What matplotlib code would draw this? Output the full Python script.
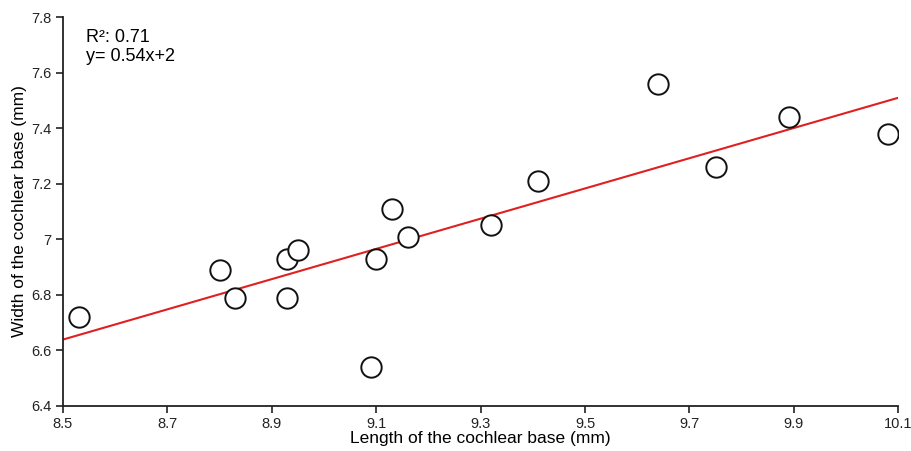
import numpy as np
import matplotlib
matplotlib.use('Agg')
import matplotlib.pyplot as plt

plt.rcParams['font.family'] = ['Liberation Sans', 'DejaVu Sans']

# cochlear base measurements (mm)
length = [8.53, 8.80, 8.83, 8.93, 8.95, 8.93, 9.09, 9.10, 9.13, 9.16,
          9.32, 9.41, 9.64, 9.75, 9.89, 10.08]
width = [6.72, 6.89, 6.79, 6.93, 6.96, 6.79, 6.54, 6.93, 7.11, 7.01,
         7.05, 7.21, 7.56, 7.26, 7.44, 7.38]

slope = 0.544
intercept = 2.015
r2_text = 'R²: 0.71'
eq_text = 'y= 0.54x+2'

xticks = [8.5, 8.7, 8.9, 9.1, 9.3, 9.5, 9.7, 9.9, 10.1]
yticks = [6.4, 6.6, 6.8, 7.0, 7.2, 7.4, 7.6, 7.8]
ytick_labels = ['6.4', '6.6', '6.8', '7', '7.2', '7.4', '7.6', '7.8']

fig = plt.figure(figsize=(9.12, 4.51), dpi=100)
ax = fig.add_axes([0.069, 0.0998, 0.916, 0.8625])

xl = np.array([8.5, 10.1])
ax.plot(xl, slope * xl + intercept, color='#e02020', lw=1.5, zorder=2)
ax.scatter(length, width, s=215, facecolors='white', edgecolors='#111111',
           linewidths=1.4, zorder=3)

ax.set_xlim(8.5, 10.1)
ax.set_ylim(6.4, 7.8)
ax.set_xticks(xticks)
ax.set_xticklabels([str(t) for t in xticks])
ax.set_yticks(yticks)
ax.set_yticklabels(ytick_labels)

for s in ['top', 'right']:
    ax.spines[s].set_visible(False)
for s in ['left', 'bottom']:
    ax.spines[s].set_linewidth(1.3)
    ax.spines[s].set_color('#222222')
ax.tick_params(direction='out', length=5, width=1.2, labelsize=10.5,
               colors='#222222', pad=3)

ax.set_xlabel('Length of the cochlear base (mm)', fontsize=12.5, labelpad=0)
ax.set_ylabel('Width of the cochlear base (mm)', fontsize=12.5, labelpad=3)

ax.text(0.028, 0.97, r2_text + '\n' + eq_text, transform=ax.transAxes,
        fontsize=13, va='top', ha='left', linespacing=1.15)

fig.savefig('out.png', dpi=100)
